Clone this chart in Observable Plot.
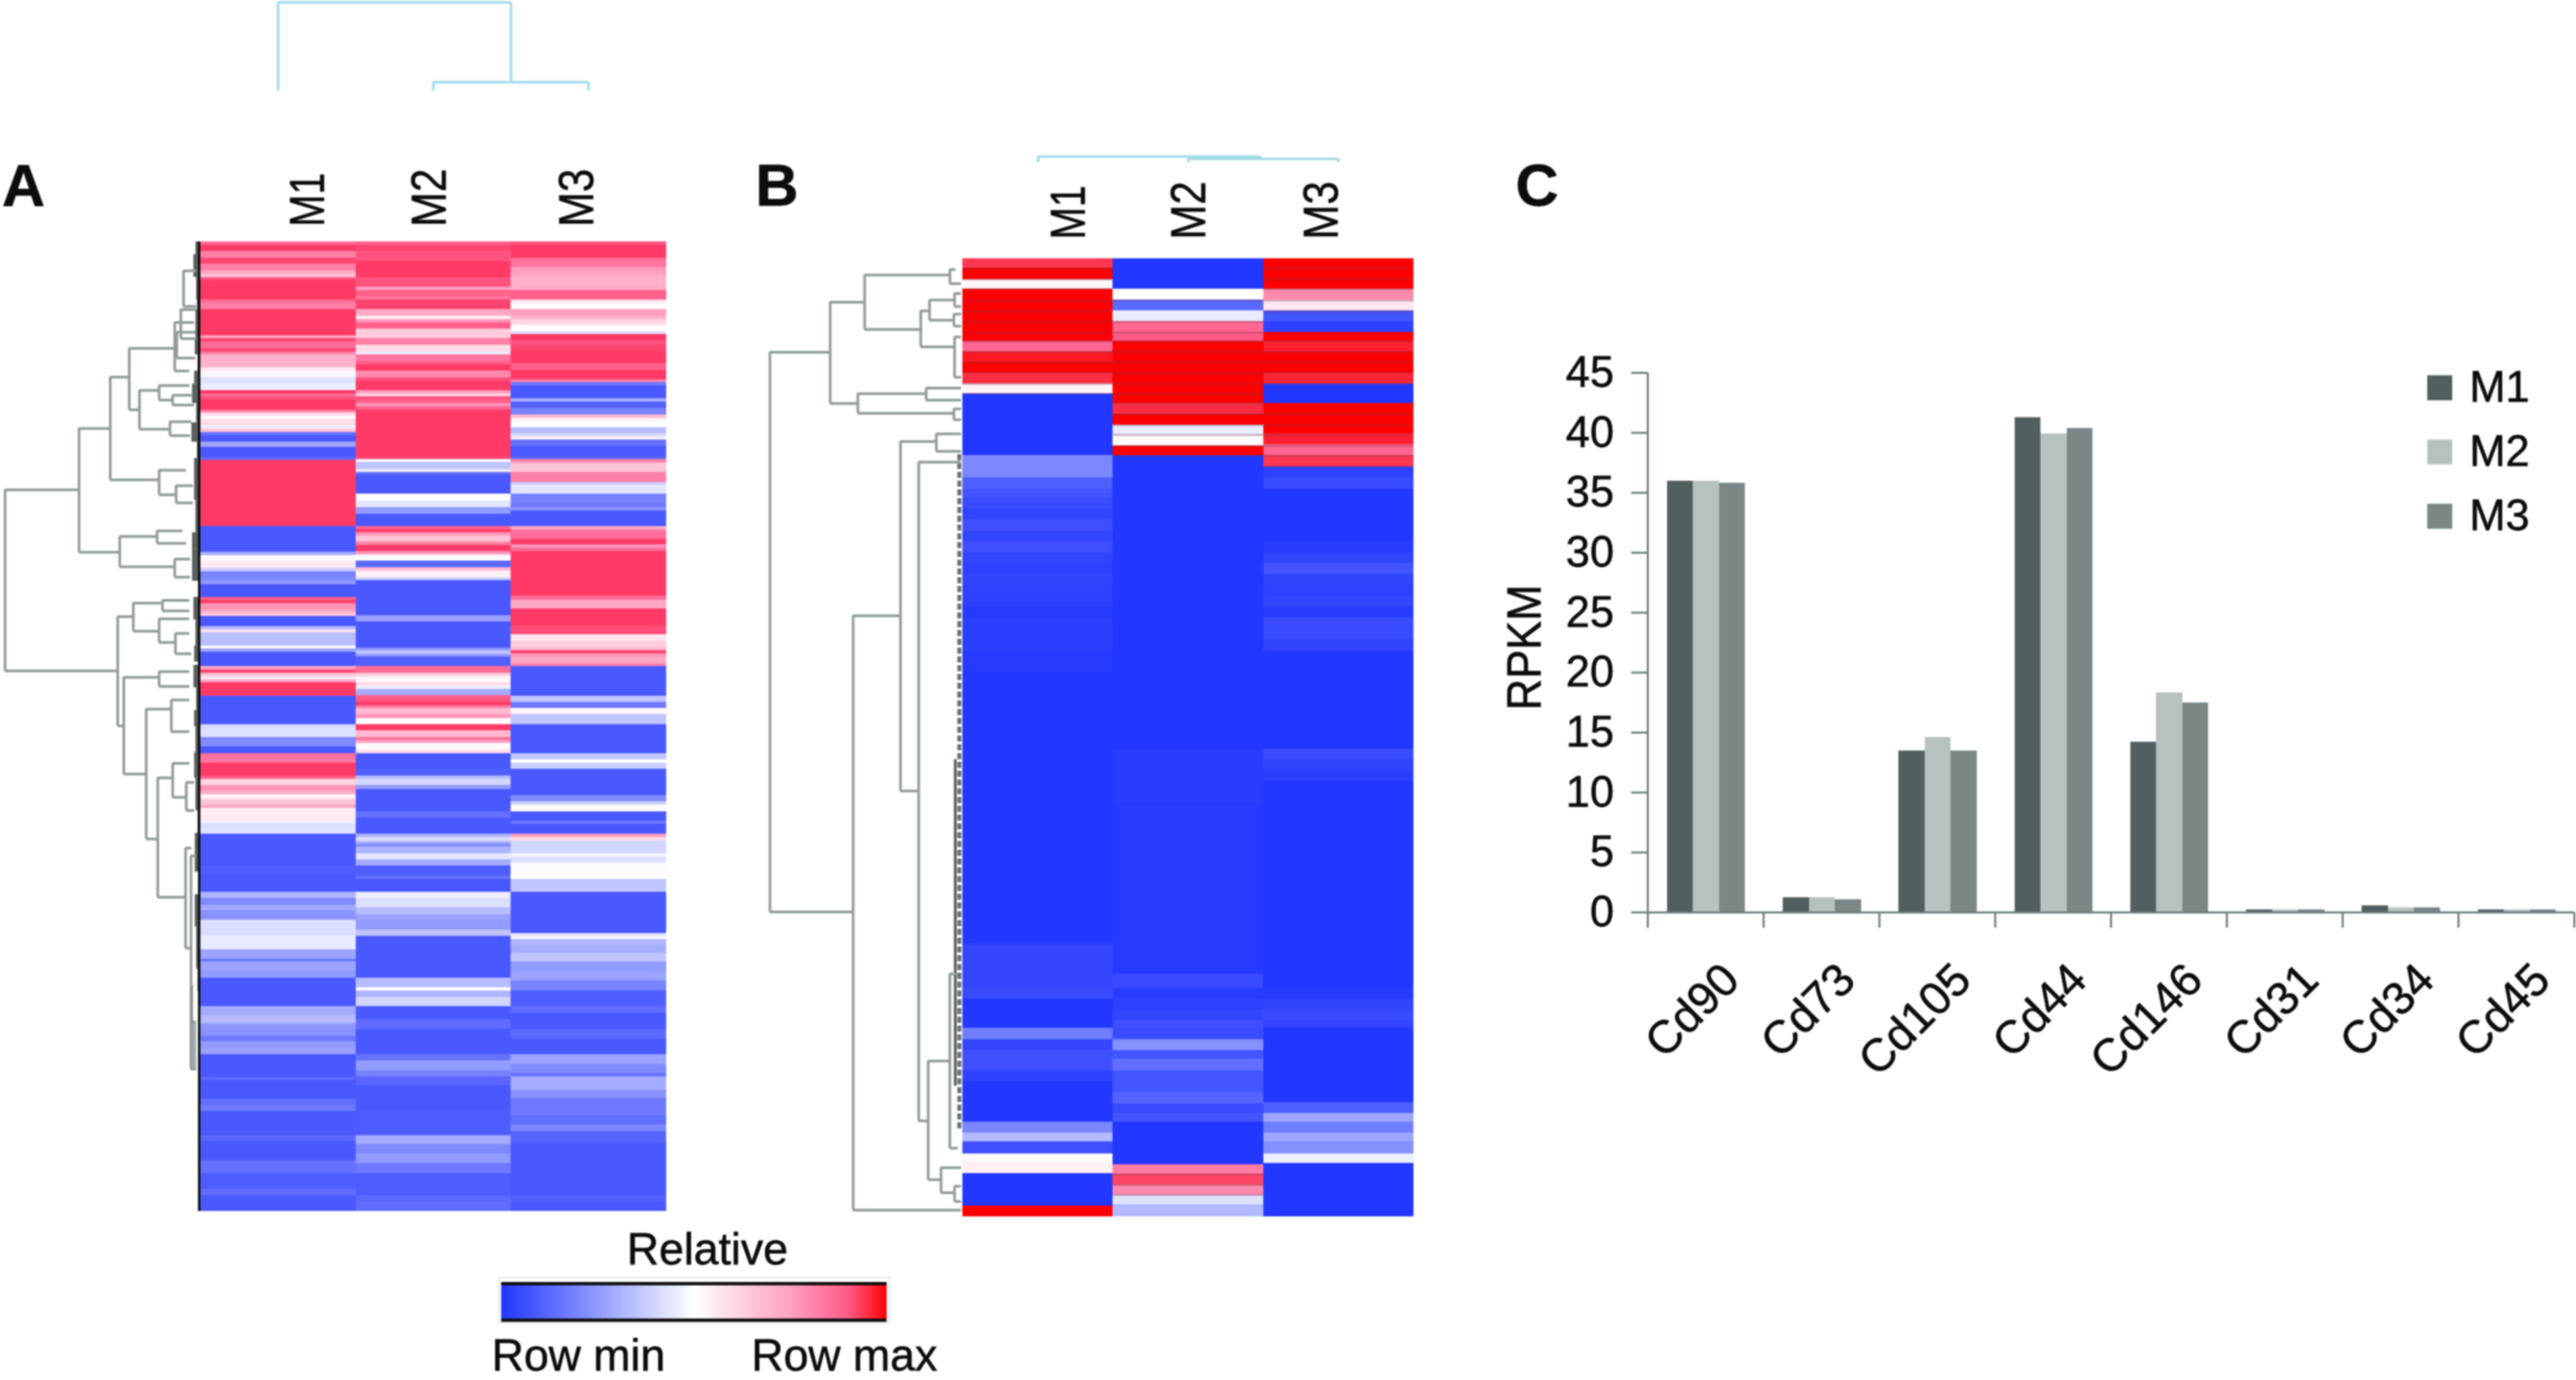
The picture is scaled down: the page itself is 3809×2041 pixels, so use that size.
<!DOCTYPE html>
<html><head><meta charset="utf-8">
<script src="https://cdn.jsdelivr.net/npm/d3@7"></script>
<script src="https://cdn.jsdelivr.net/npm/@observablehq/plot@0.6"></script>
<style>
html,body{margin:0;padding:0;background:#fff}
#page{position:relative;width:3809px;height:2041px;overflow:hidden;background:#fff;font-family:"Liberation Sans",Arial,sans-serif;color:#0c0c0c;filter:blur(1px)}
#page>svg{position:absolute;overflow:visible}
#page>span{position:absolute;line-height:1;white-space:nowrap;-webkit-text-stroke:.8px #0c0c0c}
#page text{stroke:#0c0c0c;stroke-width:.8px}
</style></head><body><div id="page"></div>
<script>
// ---------- data ----------
const samples = ["M1","M2","M3"];
// heatmap columns: [row where the run ends, relative value -1..1]
const heatA_M1 = [[1,.8],[3,1],[5,.7],[7,.95],[9,.7],[10,.5],[11,.35],[12,.9],[18,1],[19,.8],[21,.7],[29,1],[30,.5],[31,.95],[33,.8],[34,.95],[35,.7],[39,.45],[40,.15],[41,.05],[42,-.05],[44,-.18],[46,-.1],[47,1],[48,.8],[49,.9],[52,1],[53,.7],[54,.2],[55,.03],[57,.2],[58,-.1],[59,.35],[60,-.85],[62,-1],[63.5,-.55],[66.5,-1],[67.5,-.9],[88,1],[96,-1],[97,-.5],[98,.03],[99,.05],[101,.12],[102,-.3],[104,-.75],[105,-.7],[106,-.6],[110,-1],[111,.85],[112,1],[114,.6],[115,.45],[116,.3],[119,-1],[120,-.4],[121,.15],[125,-.38],[126,.02],[127,-.55],[131.4,-1],[132.5,.5],[133.5,.95],[134.5,.35],[135.5,.15],[136.4,.5],[140.5,1],[149.3,-1],[150.4,-.25],[153.4,-.18],[156.2,-.7],[158.4,-1],[159.4,.8],[161.2,.75],[165.2,1],[166.3,.85],[168.2,.25],[170.1,.6],[171.2,.45],[172.4,.05],[173.3,.3],[174.3,.35],[175.4,.5],[177.3,.1],[179.3,.12],[180.2,-.1],[181.3,-.2],[183.2,-.18],[193,-1],[196,-.97],[201.2,-1],[203.2,-.45],[205.2,-.7],[206,-.55],[207,-.5],[209.9,-.65],[214.8,-.2],[219,-.12],[221.9,-.55],[222.8,-.8],[225.8,-.55],[227.8,-.6],[236.7,-1],[239.5,-.5],[241.8,-.4],[242.8,-.6],[245.8,-.65],[247.5,-.8],[249.5,-.6],[251.4,-.55],[258.5,-1],[259.4,-.88],[265.3,-1],[267.2,-.87],[269.1,-.8],[276.5,-1],[278.2,-.9],[284.3,-1],[288.2,-.85],[293.2,-.97],[295.1,-.88],[300,-1]];
const heatA_M2 = [[1,.85],[3,.95],[6,.9],[11,1],[14,.9],[15,.55],[17,.85],[18,.75],[21,.97],[23,.5],[24,.1],[25,.6],[27,.85],[30,.3],[32,.7],[34,.2],[35,-.1],[37,.75],[38,.85],[40,1],[42,.65],[43,.9],[46,1],[47,.55],[48,.25],[49,.9],[50,.85],[51,.6],[52,.85],[66.5,1],[67.4,.95],[68.3,-.02],[70.4,-.35],[71.4,-.1],[72.2,-.85],[78.1,-1],[80.2,.02],[82.2,-.15],[84.3,-.6],[88,-1],[89.1,.85],[90,1],[90.9,.6],[92.8,.35],[94,.7],[95.8,1],[96.8,.6],[97.9,-.05],[98.8,0],[100.9,-.9],[101.8,.4],[103.9,.08],[104.9,-.3],[115.6,-1],[117.6,-.55],[125.8,-1],[126.6,-.6],[127.6,-.35],[128.5,-.6],[131.4,-.95],[133.4,.8],[134.5,.3],[136.5,.05],[137.5,.2],[138.5,-.1],[140.4,-.5],[141.4,.85],[142.5,.9],[143.5,1],[144.4,.75],[146.3,.4],[147.4,.6],[149.3,.03],[151.3,1],[153.4,.4],[154.4,.75],[155.3,.5],[157.4,.03],[158.4,.2],[163.1,-1],[165.2,-.95],[166.3,-.4],[168.2,-.25],[169.4,-.6],[176.4,-1],[178.3,-.85],[183.2,-1],[184.3,-.45],[185.5,-.2],[186.3,-.5],[187.3,-.7],[189.3,-.45],[191.2,-.15],[193.1,-.5],[196.3,-.97],[197.2,-.85],[201.2,-1],[203.2,-.1],[206,-.2],[208.1,-.4],[209.9,-.55],[213,-.6],[214.9,-.35],[227.8,-1],[230.8,-.4],[231.8,-.02],[233.6,-.45],[236.7,-.25],[240.5,-1],[243.7,-.88],[251.4,-1],[253.4,-.85],[256.4,-.6],[258.3,-.75],[261.1,-.93],[269.1,-1],[276.5,-.98],[279.2,-.5],[282.2,-.7],[285.2,-.6],[288.2,-.8],[295.1,-.97],[297,-.9],[300,-.88]];
const heatA_M3 = [[1,.9],[5,1],[6,.8],[8,.75],[10,.55],[11,.5],[14,.45],[15,.5],[18,.85],[19,.15],[21,.02],[23,.55],[24,.45],[25.7,.25],[27.8,.03],[28.7,-.2],[30.6,1],[31.7,.9],[33.8,.95],[37.6,1],[39.7,.85],[42.6,1],[43.6,.7],[44.6,-.8],[48.6,-1],[49.6,-.5],[51.5,-.95],[53.5,-.75],[54.5,.4],[55.6,.1],[57.5,0],[59.4,-.4],[60.4,-.2],[61.4,.05],[63.4,-.85],[66.5,-1],[67.4,-.9],[68.5,.7],[71.4,.35],[74.4,.7],[75.3,-.3],[78.1,-.15],[81.1,-.75],[82.2,-.8],[83.2,-.65],[88,-1],[89.1,.5],[90,.75],[92,.8],[93.8,1],[94.7,.6],[95.8,.8],[109.7,1],[110.8,.8],[113.7,.5],[118.8,1],[121.6,.93],[123.6,.15],[125.8,.3],[126.6,.45],[127.5,1],[128.5,.6],[130.6,.5],[131.4,.7],[140.5,-1],[142.5,-.35],[144.4,-.8],[146.3,.05],[149.3,-.35],[158.4,-1],[160.2,-.35],[161.2,0],[163.1,-.3],[171.4,-1],[173.3,-.7],[174.3,-.3],[176.3,.03],[179.3,-1],[180.2,-.8],[183.2,-1],[184.3,.55],[185.3,.2],[189.3,-.25],[190.3,-.05],[192.2,-.2],[195.2,-.02],[197.2,.02],[201.2,-.35],[214.1,-1],[215.1,-.15],[216,-.05],[217.9,-.45],[220,-.5],[222.8,-.35],[225.8,-.6],[228.7,-.55],[231.8,-.75],[236.7,-.97],[238.8,-.88],[243.7,-1],[246.7,-.9],[251.4,-1],[254.5,-.55],[257.3,-.7],[258.3,-.85],[262.5,-.5],[265,-.65],[270.2,-.8],[273.3,-.87],[275.4,-.72],[278.9,-.93],[295.1,-1],[297,-.95],[300,-1]];
const heatB_M1 = [[.9,.88],[1.9,1],[2.8,.05],[7.6,1],[8.55,.75],[9.5,.95],[10.5,1],[11.5,.9],[12.4,.06],[18.1,-1],[20.1,-.6],[21.2,-.8],[22,-.85],[23,-.9],[24,-.93],[25,-.88],[26,-.93],[27,-.88],[28,-.93],[29,-.95],[30,-.93],[32,-.95],[33,-.98],[36,-.96],[38,-.98],[63,-1],[67,-.92],[68,-.9],[70.7,-1],[71.7,-.65],[72.7,-.92],[74.6,-.87],[75.6,-.95],[79.3,-1],[80.3,-.6],[81.1,-.35],[82.2,-.88],[83,.02],[84,.08],[87,-1],[88,1]];
const heatB_M2 = [[2.8,-1],[3.8,0],[4.8,-.75],[5.8,-.1],[6.8,.75],[7.6,.8],[13.3,1],[14.3,.9],[15.3,1],[16.2,-.1],[17.2,.02],[18.1,1],[45,-1],[50,-.97],[65.7,-.98],[67,-.9],[68,-.97],[69,-.95],[70,-.93],[70.7,-.88],[71.7,-.9],[72.7,-.55],[73.5,-.85],[74.6,-.72],[75.5,-.85],[76.6,-.85],[77.6,-.78],[78.5,-.9],[79.3,-.85],[83.2,-1],[84.1,.65],[85.1,.85],[86,.6],[86.9,-.15],[88,-.35]];
const heatB_M3 = [[2.8,1],[3.8,.6],[4.8,.12],[5.8,-.85],[6.8,-.95],[7.6,1],[8.55,.93],[10.5,1],[11.5,.92],[13.3,-1],[16.1,1],[17.1,.93],[18.1,.75],[19.1,.88],[20.1,-.95],[21.2,-.9],[26,-1],[27,-.97],[28,-.93],[29,-.85],[30,-.93],[31,-.95],[32,-.93],[33,-.97],[35,-.9],[36,-.93],[45,-1],[46,-.9],[47,-.93],[48,-.96],[67,-1],[68,-.98],[69,-.93],[70,-.9],[70.7,-.93],[77.5,-1],[78.5,-.8],[79.3,-.45],[80.3,-.65],[81.1,-.45],[82.2,-.55],[83.1,-.08],[88,-1]];
// thin dark lines between the top rows of panel B
const rowEdgesB = [.9,1.9,2.8,3.85,4.85,5.8,6.8,7.6,8.55,9.5,10.5,11.5,12.4,13.3,14.3,15.3,16.2,17.2,18.1,19.1,84.1,85.1,86];
const labelPosA = [.695,1.48,2.43];
const labelPosB = [.707,1.51,2.39];
// dendrograms: [height, row top, row bottom, top child height, bottom child height]
const treeA = [[287,76.8,132.8,178,121],[178,57.8,96.1,132,118],[132,41.9,73.7,104,60],[104,33,52,37,89],[37,25,40,8,15],[89,46,58,60,44],[60,44.5,49,15,40],[40,47.5,50.5,10,8],[44,55.7,60,12,14],[60,70.7,78.3,20,35],[35,75.5,80.8,10,10],[118,91.2,100.6,63,37],[63,89.5,93.3,25,20],[37,98.2,103.8,14,14],[121,116,149.8,98,112],[98,111.8,120.5,55,60],[55,111,114.2,15,15],[60,116.7,124,15,36],[36,121.2,127.5,15,12],[112,134.8,164.7,60,79],[60,133,137.6,15,15],[79,144.6,184.8,42,62],[42,141.8,151.6,15,15],[62,165.9,202.8,40,21],[40,161.4,171.9,15,20],[20,167.3,176,8,8],[21,187.6,218.6,12,13],[13,190,256,5,5],[24,9,20,5,5],[28,21,30,5,5],[34,28,36,6,6]];
const treeB = [[283,8.6,60,194,160],[194,4,13.3,143,153],[143,1.5,6.5,17,60],[17,1,2.3,8,0],[60,4.8,8.1,47,10],[47,3.8,5.65,10,11],[10,3.2,4.4,0,0],[11,5.1,6.2,0,0],[10,7.2,10.9,0,0],[153,12.4,14.2,52,11],[52,11.9,13,0,0],[11,13.8,14.8,0,0],[160,32.8,87.4,90,0],[90,16.8,48.9,37,63],[37,16.1,17.7,0,0],[63,18.7,79.2,0,49],[49,73.7,84.6,17,30],[17,65.7,81.7,5,5],[30,83.5,85.8,0,10],[10,85.2,86.6,0,0]];
// dense leaf clusters of the row tree of panel A: [row top, row bottom, height]
const tuftsA = [[0,4,6],[4,11,9],[11,18,5],[18,21,4],[21,30,6],[30,35,7],[35,40,3],[40,44,8],[44,50,11],[50,56,5],[56,62,12],[62,67,4],[67,80,8],[80,90,6],[90,95,11],[95,105,11],[105,110,2],[110,117,9],[117,125,6],[125,130,8],[131,138,9],[138,145,5],[145,150,8],[150,158,6],[158,166,8],[166,176,6],[176,183,3],[183,195,7],[195,202,2],[202,212,7],[212,225,5],[225,232,3]];
// column trees: [height, left column pos, right column pos, left child height, right child height]
const colTreeA = [[100,.5,2,0,10],[10,1.5,2.5,0,0]];
const colTreeB = [[100,.5,1.98,0,60],[60,1.5,2.5,0,0]];
const genes = ["Cd90","Cd73","Cd105","Cd44","Cd146","Cd31","Cd34","Cd45"];
const rpkmM1 = [36,1.25,13.5,41.3,14.2,.2,.55,.2];
const rpkmM2 = [36,1.25,14.6,39.9,18.3,.2,.4,.2];
const rpkmM3 = [35.8,1.05,13.5,40.4,17.5,.2,.4,.2];
const yTicks = [0,5,10,15,20,25,30,35,40,45];
const seriesColors = ["#525f60","#b7c2c0","#7a8786"];
const colorStops = [-1,0,.5,.8,1];
const paletteA = ["#4a58ff","#ffffff","#ffa8c6","#ff6c98","#ff3a66"];
const paletteB = ["#2237ff","#ffffff","#ffa0c0","#ff5a88","#ff0000"];
const treeGrey = "#929d9b", colTreeBlue = "#a6dcea", axisGrey = "#6f7d7c";

// ---------- helpers ----------
const page = document.getElementById("page");
const FONT = '"Liberation Sans",Arial,sans-serif';
const style = {fontFamily:FONT, background:"transparent", overflow:"visible"};
function put(svg,left,top){ svg.style.left=left+"px"; svg.style.top=top+"px"; page.appendChild(svg); return svg; }
function label(text,x,baseline,size,opts={}){
  const s=document.createElement("span"); s.textContent=text;
  s.style.fontSize=size+"px"; s.style.fontWeight=opts.weight||"normal";
  s.style.left=x+"px"; s.style.top=(baseline-.83*size)+"px";
  if(opts.center) s.style.transform="translateX(-50%)";
  page.appendChild(s);
}
function runs(cols){
  return cols.flatMap((col,c)=>{ let start=0; return col.map(([end,v])=>{ const r={c,start,end,v}; start=end; return r; }); });
}
function heat(cols,palette,rowCount,positions,labelRow,left,top,w,h,edges=[]){
  const lab = samples.map((s,i)=>({s,p:positions[i]}));
  const cells = runs(cols);
  // the dark row lines show only on the red and pale rows, not on the blue ones
  const edgeSegs = edges.flatMap(e=>cols.map((_,c)=>({e,c})).filter(({c})=>{
    const r = cells.find(d=>d.c===c && d.start<=e-.1 && d.end>e-.1);
    return r && r.v>-.5;
  }));
  const svg = Plot.plot({width:w,height:h,margin:0,style,
    x:{domain:[0,3],range:[0,w],axis:null},
    y:{domain:[0,rowCount],range:[0,h],axis:null},
    color:{type:"linear",domain:colorStops,range:palette},
    marks:[
      Plot.rect(cells,{x1:d=>d.c,x2:d=>d.c+1,y1:"start",y2:"end",fill:"v",shapeRendering:"crispEdges"}),
      Plot.ruleY(edgeSegs,{y:"e",x1:d=>d.c,x2:d=>d.c+1,stroke:"#7a3a50",strokeOpacity:.4,strokeWidth:2.5}),
      Plot.text(lab,{x:"p",y:()=>labelRow,text:"s",rotate:-90,textAnchor:"start",lineAnchor:"middle",fontSize:72,fill:"#0c0c0c"})
    ]});
  d3.select(svg).selectAll("text").filter(function(){return this.textContent.startsWith("M")})
    .attr("textLength",function(){return this.textContent==="M1"?80:86}).attr("lengthAdjust","spacingAndGlyphs");
  return put(svg,left,top);
}
function rowTree(tree,extra,maxH,rowCount,left,top,w,h){
  const svg = Plot.plot({width:w,height:h,margin:0,style,
    x:{domain:[maxH,0],range:[0,w],axis:null},
    y:{domain:[0,rowCount],range:[0,h],axis:null},
    marks:[
      ...extra,
      Plot.ruleX(tree,{x:d=>d[0],y1:d=>d[1],y2:d=>d[2],stroke:treeGrey,strokeWidth:4}),
      Plot.ruleY(tree,{y:d=>d[1],x1:d=>d[0],x2:d=>d[3],stroke:treeGrey,strokeWidth:4}),
      Plot.ruleY(tree,{y:d=>d[2],x1:d=>d[0],x2:d=>d[4],stroke:treeGrey,strokeWidth:4})
    ]});
  return put(svg,left,top);
}
function colTree(tree,maxH,left,top,w,h){
  const svg = Plot.plot({width:w,height:h,margin:0,style,
    x:{domain:[0,3],range:[0,w],axis:null},
    y:{domain:[maxH,0],range:[0,h],axis:null},
    marks:[
      Plot.ruleY(tree,{y:d=>d[0],x1:d=>d[1],x2:d=>d[2],stroke:colTreeBlue,strokeWidth:4}),
      Plot.ruleX(tree,{x:d=>d[1],y1:d=>d[0],y2:d=>d[3],stroke:colTreeBlue,strokeWidth:4}),
      Plot.ruleX(tree,{x:d=>d[2],y1:d=>d[0],y2:d=>d[4],stroke:colTreeBlue,strokeWidth:4})
    ]});
  return put(svg,left,top);
}

// ---------- panel A ----------
heat([heatA_M1,heatA_M2,heatA_M3],paletteA,300,labelPosA,-4.6,295.5,357,688.5,1434);
rowTree(treeA,[
  Plot.rect(tuftsA,{x1:d=>d[2],x2:0,y1:d=>d[0],y2:d=>d[1],fill:"#4a4f4e",fillOpacity:.9}),
  Plot.ruleX([[241,256]],{x:()=>10,y1:d=>d[0],y2:d=>d[1],stroke:"#a3aeac",strokeWidth:9}),
  Plot.ruleX([[230,242]],{x:()=>12,y1:d=>d[0],y2:d=>d[1],stroke:"#222",strokeWidth:3}),
  Plot.ruleX([[0,300]],{x:()=>1,y1:d=>d[0],y2:d=>d[1],stroke:"#0a0a0a",strokeWidth:3.5})
],287,300,7,357,288,1434);
colTree(colTreeA,100,295.5,3,688.5,131);

// ---------- panel B ----------
heat([heatB_M1,heatB_M2,heatB_M3],paletteB,88,labelPosB,-1.76,1422.7,382.3,667.3,1417,rowEdgesB);
rowTree(treeB,[
  Plot.ruleX([[18,80]],{x:()=>3,y1:d=>d[0],y2:d=>d[1],stroke:"#6a706e",strokeWidth:6,strokeDasharray:"9 4"}),
  Plot.ruleX([[46,76]],{x:()=>9,y1:d=>d[0],y2:d=>d[1],stroke:"#555b5a",strokeWidth:4})
],283,88,1138,382.3,283,1417);
colTree(colTreeB,100,1422.7,231,667.3,9);

// ---------- colour legend ----------
const legendRamp = d3.range(-1,1,.004);
put(Plot.plot({width:578,height:67,marginLeft:4,marginRight:4,marginTop:9,marginBottom:4,style,
  x:{domain:[-1,1],axis:null}, y:{domain:[0,1],axis:null},
  color:{type:"linear",domain:colorStops,range:paletteB},
  marks:[
    Plot.rect(legendRamp,{x1:d=>d,x2:d=>d+.0045,y1:0,y2:1,fill:d=>d,shapeRendering:"crispEdges"}),
    Plot.ruleY([0,1],{stroke:"#111",strokeWidth:5}),
    Plot.frame({stroke:"#dfe5e3",strokeWidth:2,insetLeft:-4,insetRight:-4,insetTop:-9,insetBottom:-4})
  ]}),737,1889);

// ---------- panel C ----------
const barData = [rpkmM1,rpkmM2,rpkmM3].flatMap((vals,s)=>vals.map((v,i)=>({i,s,v,name:samples[s]})));
const geneTicks = d3.range(genes.length+1);
const rpkmSvg = Plot.plot({width:1609,height:1100,marginLeft:236,marginRight:3,marginTop:51,marginBottom:251,style,
  x:{domain:[0,genes.length],axis:null},
  y:{domain:[0,45],axis:null},
  color:{domain:samples,range:seriesColors},
  marks:[
    Plot.rectY(barData,{x1:d=>d.i+.168+d.s*.225,x2:d=>d.i+.168+(d.s+1)*.225,y1:0,y2:"v",fill:"name",shapeRendering:"crispEdges"}),
    Plot.axisY({ticks:yTicks,tickSize:24,tickPadding:26,fontSize:64,stroke:axisGrey,strokeWidth:3,fill:"#0c0c0c",tickFormat:d=>String(d),label:null}),
    Plot.ruleX([0],{y1:0,y2:45,stroke:axisGrey,strokeWidth:3}),
    Plot.ruleY([0],{x1:0,x2:genes.length,stroke:axisGrey,strokeWidth:3}),
    Plot.ruleX(geneTicks,{x:d=>d,y1:0,y2:-1.3,stroke:axisGrey,strokeWidth:3}),
    Plot.text(genes,{x:(d,i)=>i+.5,y:()=>0,text:d=>d,rotate:-45,textAnchor:"end",lineAnchor:"middle",dx:38,dy:88,fontSize:68,fill:"#0c0c0c"}),
    Plot.text(["RPKM"],{x:()=>0,y:()=>22.1,text:d=>d,rotate:-90,textAnchor:"middle",lineAnchor:"bottom",dx:-159,fontSize:70,fill:"#0c0c0c"})
  ]});
d3.select(rpkmSvg).selectAll("text").filter(function(){return this.textContent==="RPKM"}).attr("textLength",186).attr("lengthAdjust","spacingAndGlyphs");
put(rpkmSvg,2200,500);

put(Plot.plot({width:220,height:286.5,margin:0,style,
  x:{domain:["s"],range:[0,37],padding:0,axis:null},
  y:{domain:samples,range:[0,286.5],paddingInner:.612,paddingOuter:.306,axis:null},
  color:{domain:samples,range:seriesColors},
  marks:[
    Plot.cell(samples,{x:()=>"s",y:d=>d,fill:d=>d}),
    Plot.text(samples,{y:d=>d,frameAnchor:"left",text:d=>d,dx:62,fontSize:64,textAnchor:"start",fill:"#0c0c0c"})
  ]}),3589,524.8);

// ---------- page labels ----------
label("A",3,303,88,{weight:"bold"});
label("B",1117,303,88,{weight:"bold"});
label("C",2241,303,88,{weight:"bold"});
label("Relative",1046,1869,66,{center:true});
label("Row min",727,2026,66);
label("Row max",1111,2026,66);
</script></body></html>
